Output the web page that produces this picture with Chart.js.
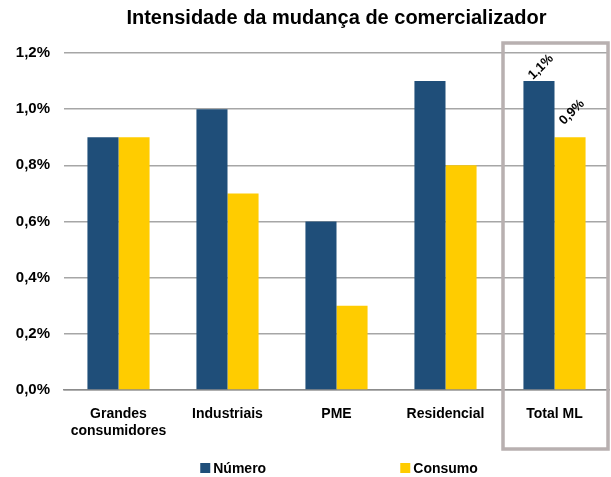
<!DOCTYPE html>
<html>
<head>
<meta charset="utf-8">
<script src="https://cdn.jsdelivr.net/npm/chart.js@4"></script>
<style>
  html, body { margin: 0; padding: 0; background: #fff; }
  #wrap { width: 611px; height: 477px; }
</style>
</head>
<body>
<div id="wrap"><canvas id="mlChart"></canvas></div>
<script>
const categories = [['Grandes', 'consumidores'], 'Industriais', 'PME', 'Residencial', 'Total ML'];
const numero = [0.9, 1.0, 0.6, 1.1, 1.1];
const consumo = [0.9, 0.7, 0.3, 0.8, 0.9];
const yTicks = [0, 0.2, 0.4, 0.6, 0.8, 1.0, 1.2];
const chartTitle = 'Intensidade da mudança de comercializador';

const FONT = "'Liberation Sans', Arial, sans-serif";

const fmt = v => v.toFixed(1).replace('.', ',') + '%';

// title, highlight box, labels on last group, legend
const decor = {
    id: 'decor',
    afterDraw(chart) {
        const c = chart.ctx;
        const area = chart.chartArea;
        const x = chart.scales.x;

        c.save();
        c.fillStyle = '#000';
        c.font = 'bold 20px ' + FONT;
        c.textAlign = 'center';
        c.textBaseline = 'middle';
        c.fillText(chartTitle, (area.left + area.right) / 2, 18);

        // box round Total ML
        const last = categories.length - 1;
        const w = x.width / categories.length;
        const cx = x.getPixelForValue(last);
        c.strokeStyle = '#b8b0b0';
        c.lineWidth = 3.5;
        c.strokeRect(cx - w / 2 + 3, 43, w - 4, 406);

        // rotated value labels on the Total ML group
        const offsets = [14, 25];
        c.font = 'bold 13px ' + FONT;
        chart.data.datasets.forEach((ds, i) => {
            const bar = chart.getDatasetMeta(i).data[last];
            c.save();
            c.translate(bar.x + 2, bar.y - offsets[i]);
            c.rotate(-Math.PI / 4);
            c.fillText(fmt(ds.data[last]), 0, 0);
            c.restore();
        });

        // legend
        const pos = [0.25, 0.617];
        c.font = 'bold 14px ' + FONT;
        c.textAlign = 'left';
        chart.data.datasets.forEach((ds, i) => {
            const lx = area.left + area.width * pos[i];
            c.fillStyle = ds.backgroundColor;
            c.fillRect(lx, 463, 10, 10);
            c.fillStyle = '#000';
            c.fillText(ds.label, lx + 13, 469);
        });
        c.restore();
    }
};

new Chart(document.getElementById('mlChart'), {
    type: 'bar',
    data: {
        labels: categories,
        datasets: [
            { label: 'Número', data: numero, backgroundColor: '#1f4e79' },
            { label: 'Consumo', data: consumo, backgroundColor: '#ffcc00' }
        ]
    },
    options: {
        responsive: true,
        maintainAspectRatio: false,
        animation: false,
        layout: { padding: { top: 53, right: 2, bottom: 0, left: 0 } },
        datasets: { bar: { categoryPercentage: 0.57, barPercentage: 1.0 } },
        plugins: {
            legend: { display: false },
            title: { display: false },
            tooltip: { enabled: false }
        },
        scales: {
            x: {
                grid: { display: false },
                border: { display: true, color: '#8c8c8c', width: 1.5 },
                ticks: {
                    color: '#000',
                    font: { family: FONT, size: 14, weight: 'bold' },
                    padding: 8,
                    maxRotation: 0,
                    autoSkip: false
                },
                afterFit(scale) { scale.height = 87; }
            },
            y: {
                min: 0,
                max: 1.2,
                afterBuildTicks(scale) { scale.ticks = yTicks.map(v => ({ value: v })); },
                grid: { color: '#a6a6a6', lineWidth: 1.5, drawTicks: false },
                border: { display: false },
                ticks: {
                    color: '#000',
                    font: { family: FONT, size: 15, weight: 'bold' },
                    padding: 14,
                    callback: v => fmt(v)
                },
                afterFit(scale) { scale.width = 64; }
            }
        }
    },
    plugins: [decor]
});
</script>
</body>
</html>
